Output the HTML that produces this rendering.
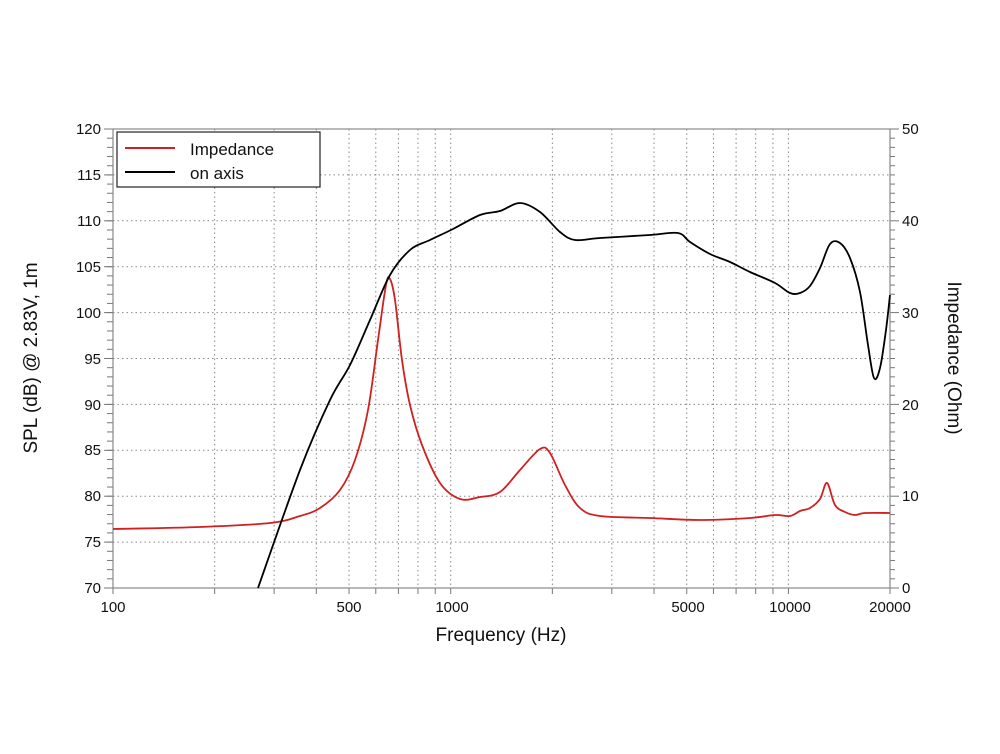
<!DOCTYPE html>
<html><head><meta charset="utf-8"><style>
body{margin:0;background:#fff}
text{font-family:"Liberation Sans",sans-serif;fill:#111}
</style></head><body>
<svg width="1000" height="749" viewBox="0 0 1000 749" xmlns="http://www.w3.org/2000/svg">
<g id="grid" stroke="#888" stroke-width="1" stroke-dasharray="1.5,3"></g>
<g id="ticks" stroke="#777" stroke-width="1"></g>
<rect x="113" y="129" width="777" height="459" fill="none" stroke="#888" stroke-width="1.2"/>
<g font-size="15" text-anchor="end">
<text x="101" y="134">120</text><text x="101" y="180">115</text><text x="101" y="226">110</text>
<text x="101" y="272">105</text><text x="101" y="318">100</text><text x="101" y="364">95</text>
<text x="101" y="410">90</text><text x="101" y="455">85</text><text x="101" y="501">80</text>
<text x="101" y="547">75</text><text x="101" y="593">70</text>
</g>
<g font-size="15" text-anchor="start">
<text x="902" y="134">50</text><text x="902" y="226">40</text><text x="902" y="318">30</text>
<text x="902" y="410">20</text><text x="902" y="501">10</text><text x="902" y="593">0</text>
</g>
<g font-size="15" text-anchor="middle">
<text x="113" y="612">100</text><text x="349" y="612">500</text><text x="452" y="612">1000</text>
<text x="688" y="612">5000</text><text x="790" y="612">10000</text><text x="890" y="612">20000</text>
</g>
<text x="501" y="641" font-size="19" text-anchor="middle">Frequency (Hz)</text>
<text transform="translate(37,358) rotate(-90)" font-size="19" text-anchor="middle">SPL (dB) @ 2.83V, 1m</text>
<text transform="translate(948,358) rotate(90)" font-size="19" text-anchor="middle">Impedance (Ohm)</text>
<path id="red" fill="none" stroke="#d02020" stroke-width="1.8"/>
<path id="blk" fill="none" stroke="#000" stroke-width="1.8"/>
<rect x="117" y="132" width="203" height="55" fill="#fff" stroke="#222" stroke-width="1.2"/>
<line x1="125" y1="148" x2="175" y2="148" stroke="#d02020" stroke-width="2"/>
<line x1="125" y1="172" x2="175" y2="172" stroke="#000" stroke-width="2"/>
<text x="190" y="155" font-size="17">Impedance</text>
<text x="190" y="179" font-size="17">on axis</text>
</svg>
<script>
var ns="http://www.w3.org/2000/svg";
function fx(f){return 113+Math.log10(f/100)*337.7;}
var g=document.getElementById("grid"),t=document.getElementById("ticks");
function ln(p,x1,y1,x2,y2){var l=document.createElementNS(ns,"line");l.setAttribute("x1",x1);l.setAttribute("y1",y1);l.setAttribute("x2",x2);l.setAttribute("y2",y2);p.appendChild(l);}
[200,300,400,500,600,700,800,900,1000,2000,3000,4000,5000,6000,7000,8000,9000,10000].forEach(function(f){var x=fx(f);ln(g,x,129,x,588);ln(t,x,588,x,594);});
ln(t,113,588,113,594);ln(t,890,588,890,594);
for(var i=1;i<10;i++){var y=129+i*45.9;ln(g,113,y,890,y);}
for(var d=0;d<=50;d++){var y=129+d*9.18;ln(t,107,y,113,y);if(d%5==0)ln(t,104,y,113,y);}
for(var o=0;o<=50;o++){var y=588-o*9.18;ln(t,890,y,o%10==0?899:895,y);}
function sm(p){var s="M"+p[0][0]+","+p[0][1];for(var i=0;i<p.length-1;i++){var p0=p[i-1]||p[i],p1=p[i],p2=p[i+1],p3=p[i+2]||p2;
s+=" C"+(p1[0]+(p2[0]-p0[0])/6)+","+(p1[1]+(p2[1]-p0[1])/6)+" "+(p2[0]-(p3[0]-p1[0])/6)+","+(p2[1]-(p3[1]-p1[1])/6)+" "+p2[0]+","+p2[1];}return s;}
var blk=[[258,588],[300,470],[330,400],[350,365],[370,320],[390,275],[410,250],[430,240],[453,229],[480,215],[500,211],[520,203],[540,212],[560,232],[575,240],[600,238],[650,235],[678,233],[690,242],[710,254],[730,262],[750,272],[775,283],[790,293],[800,293],[810,286],[820,268],[830,244],[840,243],[850,258],[860,292],[868,345],[874,378],[880,368],[886,330],[890,295]];
var red=[[113,529],[200,527],[270,523],[300,516],[320,508],[340,490],[355,460],[368,410],[378,340],[386,285],[390,279],[395,300],[402,360],[410,405],[422,445],[440,483],[460,499],[480,497],[500,492],[520,470],[540,449],[550,453],[565,485],[580,508],[600,516],[650,518],[700,520],[750,518],[775,515],[790,516],[800,511],[810,508],[820,499],[827,483],[835,505],[845,512],[855,515],[865,513],[890,513]];
document.getElementById("blk").setAttribute("d",sm(blk));
document.getElementById("red").setAttribute("d",sm(red));
</script>
</body></html>
